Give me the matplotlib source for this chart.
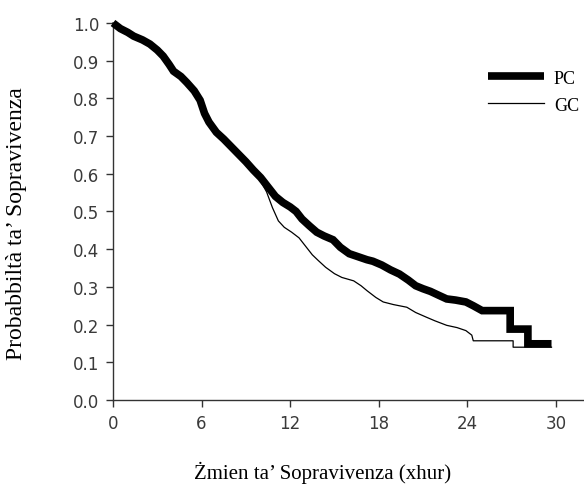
import matplotlib
matplotlib.use('Agg')
import matplotlib.pyplot as plt

# Survival curves (repeated times = vertical drops)
pc_time = [0, 0.5, 1.0, 1.4, 2.0, 2.5, 3.0, 3.4, 3.8, 4.1, 4.6, 5.0, 5.5, 5.9, 6.2, 6.5,
           7.0, 7.5, 8.0, 8.5, 9.0, 9.5, 10.0, 10.5, 11.0, 11.5, 12.0, 12.4, 12.8, 13.3,
           13.8, 14.3, 14.9, 15.4, 16.0, 16.6, 17.2, 17.6, 18.2, 18.8, 19.4, 20.0, 20.5,
           21.0, 21.5, 22.1, 22.6, 23.2, 23.9, 24.4, 25.0, 26.9, 26.9, 28.1, 28.1, 29.7]
pc_surv = [1.0, 0.985, 0.975, 0.965, 0.955, 0.944, 0.928, 0.912, 0.89, 0.872, 0.858,
           0.842, 0.82, 0.795, 0.76, 0.737, 0.71, 0.692, 0.672, 0.652, 0.632, 0.61, 0.59,
           0.565, 0.54, 0.524, 0.512, 0.50, 0.48, 0.462, 0.445, 0.435, 0.425, 0.405, 0.388,
           0.38, 0.372, 0.368, 0.358, 0.345, 0.334, 0.318, 0.303, 0.295, 0.288, 0.277,
           0.268, 0.265, 0.26, 0.25, 0.237, 0.237, 0.188, 0.188, 0.149, 0.149]

gc_time = [0, 0.5, 1.0, 1.4, 2.0, 2.5, 3.0, 3.4, 3.8, 4.1, 4.6, 5.0, 5.5, 5.9, 6.2, 6.5,
           7.0, 7.5, 8.0, 8.5, 9.0, 9.5, 10.0, 10.4, 10.8, 11.2, 11.6, 12.1, 12.6, 13.0,
           13.5, 13.9, 14.4, 15.0, 15.5, 16.3, 16.8, 17.2, 17.8, 18.3, 19.0, 19.9, 20.5,
           21.2, 21.8, 22.6, 23.3, 23.9, 24.3, 24.4, 27.1, 27.1, 29.7]
gc_surv = [1.0, 0.985, 0.972, 0.962, 0.95, 0.94, 0.922, 0.905, 0.885, 0.87, 0.852, 0.835,
           0.812, 0.79, 0.758, 0.735, 0.708, 0.69, 0.67, 0.65, 0.628, 0.605, 0.58, 0.552,
           0.51, 0.475, 0.458, 0.445, 0.43, 0.41, 0.385, 0.37, 0.352, 0.335, 0.325, 0.316,
           0.303, 0.29, 0.272, 0.26, 0.253, 0.246, 0.232, 0.22, 0.21, 0.198, 0.192, 0.184,
           0.172, 0.157, 0.157, 0.14, 0.14]

x_ticks = [0, 6, 12, 18, 24, 30]
y_ticks = [0.0, 0.1, 0.2, 0.3, 0.4, 0.5, 0.6, 0.7, 0.8, 0.9, 1.0]

x_label = "Żmien ta’ Sopravivenza (xhur)"
y_label = "Probabbiltà ta’ Sopravivenza"


def main():
    fig = plt.figure(figsize=(5.84, 4.89), dpi=100)
    ax = fig.add_axes([0.1935, 0.18, 0.8065, 0.771])

    ax.plot(gc_time, gc_surv, color='black', lw=0.9, label='GC',
            clip_on=False, zorder=2)
    ax.plot(pc_time, pc_surv, color='black', lw=5.5, label='PC',
            clip_on=False, zorder=3, solid_joinstyle='miter', solid_capstyle='butt')

    ax.set_xlim(0, 31.9)
    ax.set_ylim(0, 1.0)
    ax.set_xticks(x_ticks)
    ax.set_yticks(y_ticks)
    ax.set_yticklabels(["%.1f" % v for v in y_ticks])

    for side in ['top', 'right']:
        ax.spines[side].set_visible(False)
    for side in ['left', 'bottom']:
        ax.spines[side].set_color('#333333')
        ax.spines[side].set_linewidth(1.0)

    ax.tick_params(axis='both', direction='out', length=5, width=1.0, color='#333333',
                   labelcolor='#3a3a3a', labelsize=12, pad=5)
    for lab in ax.get_xticklabels() + ax.get_yticklabels():
        lab.set_family('DejaVu Sans')

    ax.set_xlabel(x_label, family='Liberation Serif', fontsize=15)
    ax.set_ylabel(y_label, family='Liberation Serif', fontsize=17)
    ax.xaxis.set_label_coords(0.444, -0.162)
    ax.yaxis.set_label_coords(-0.182, 0.47)

    handles, labels = ax.get_legend_handles_labels()
    ax.legend(handles[::-1], labels[::-1], loc='upper left', bbox_to_anchor=(0.781, 0.895),
              frameon=False, prop={'family': 'Liberation Serif', 'size': 13},
              handlelength=3.1, handletextpad=0.55, labelspacing=0.55, borderaxespad=0)

    fig.savefig('out.png', dpi=100)


if __name__ == "__main__":
    main()
